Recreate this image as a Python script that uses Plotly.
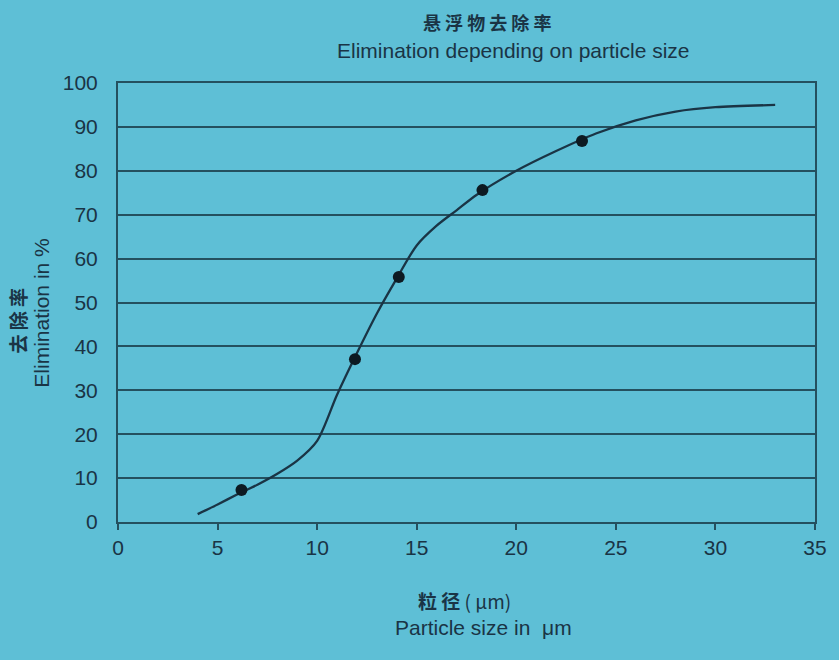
import plotly.graph_objects as go

# Data
curve_x = [4, 5, 6, 7, 8, 9, 10, 11, 12, 13, 14, 15, 16, 17, 18, 20, 22, 24, 26, 28, 30, 33]
curve_y = [1.8, 4, 6.3, 8.5, 11, 14, 18.5, 29, 38.5, 47.5, 55.5, 63, 67.5, 71, 74.5, 80, 84.5, 88.5, 91.5, 93.5, 94.5, 95]
point_x = [6.2, 11.9, 14.1, 18.3, 23.3]
point_y = [7.3, 37.1, 55.8, 75.6, 86.8]
x_ticks = [0, 5, 10, 15, 20, 25, 30, 35]
y_ticks = [0, 10, 20, 30, 40, 50, 60, 70, 80, 90, 100]

BG = "#5ebfd6"
INK = "#1a3445"
GRID = "#24505f"
FONT = "Liberation Sans, Arial, sans-serif"
CJK = "Noto Sans CJK SC"

fig = go.Figure()
fig.add_trace(go.Scatter(x=curve_x, y=curve_y, mode="lines",
                         line=dict(color=INK, width=2.3, shape="spline", smoothing=0.8),
                         hoverinfo="skip", showlegend=False))
fig.add_trace(go.Scatter(x=point_x, y=point_y, mode="markers",
                         marker=dict(color="#0d1a22", size=12),
                         showlegend=False))

fig.update_layout(
    width=839, height=660,
    paper_bgcolor=BG, plot_bgcolor=BG,
    margin=dict(l=118, r=19, t=83, b=138),
    font=dict(family=FONT, size=21, color=INK),
    xaxis=dict(range=[0, 35], tickvals=x_ticks, ticks="outside", ticklen=6, tickwidth=2,
               tickcolor=GRID, showline=True, linecolor=GRID, linewidth=2, mirror=True,
               showgrid=False, zeroline=False, tickfont=dict(size=21, color=INK)),
    yaxis=dict(range=[0, 100], tickvals=y_ticks, ticks="", showline=True, linecolor=GRID,
               linewidth=2, mirror=True, showgrid=True, gridcolor=GRID, gridwidth=2,
               zeroline=False, tickfont=dict(size=21, color=INK), ticklabelstandoff=14),
)

def ann(text, x, y, size, fam, angle=0):
    fig.add_annotation(text=text, x=x, y=y, xref="paper", yref="paper", showarrow=False,
                       xanchor="center", yanchor="middle", textangle=angle,
                       font=dict(family=fam, size=size, color=INK))

ann("<b>悬 浮 物 去 除 率</b>", 0.53, 1.139, 18, CJK)
ann("Elimination depending on particle size", 0.568, 1.075, 21, FONT)
ann("<b>粒 径</b> ( μm)", 0.497, -0.178, 19, CJK)
ann("Particle size in  μm", 0.524, -0.241, 21, FONT)
ann("<b>去 除 率</b>", -0.144, 0.458, 19, CJK, -90)
ann("Elimination in %", -0.111, 0.476, 21, FONT, -90)

fig.write_html("out.html", config={"displayModeBar": False},
               post_script="document.body.style.margin='0';document.body.style.overflow='hidden';")
